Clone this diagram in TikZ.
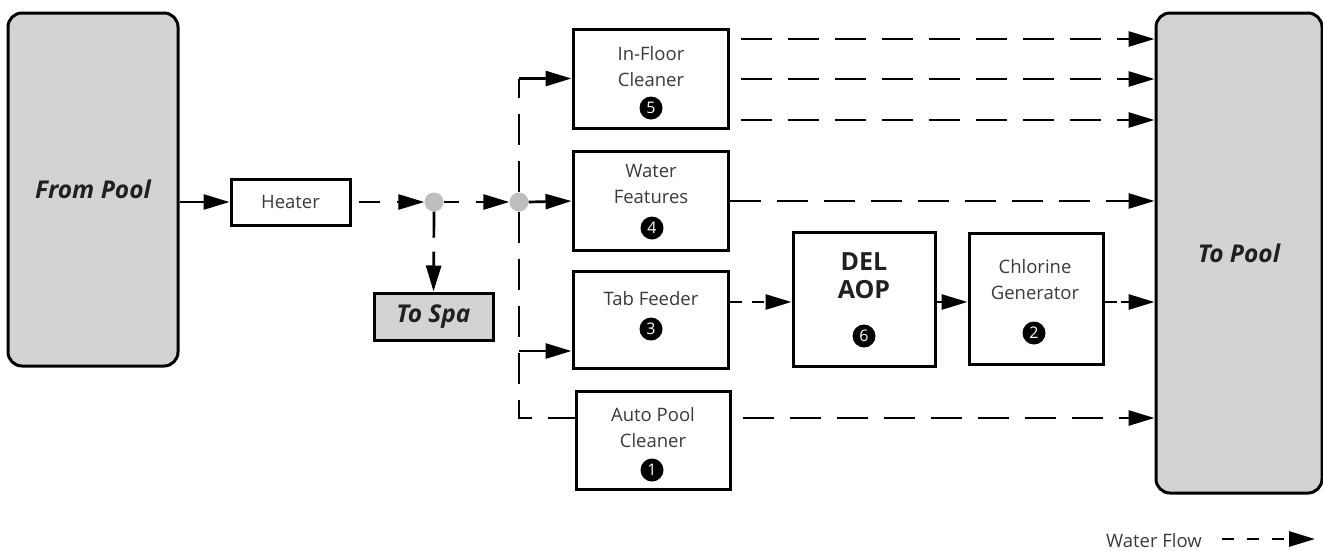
\documentclass[tikz,border=0pt]{standalone}
\usepackage{fontspec}
\setmainfont{Open Sans}
\usetikzlibrary{arrows.meta,calc}
\definecolor{poolgray}{HTML}{D1D3D4}
\definecolor{dotgray}{HTML}{BCBEC0}
\definecolor{txtgray}{HTML}{3A3A3A}
\definecolor{boldtxt}{HTML}{231F20}
\begin{document}
\begin{tikzpicture}[x=1pt,y=-1pt,
  pool/.style={draw=black, line width=3pt, fill=poolgray, rounded corners=14pt, inner sep=0pt},
  boxnode/.style={draw=black, line width=3pt, fill=white, inner sep=0pt},
  flow/.style={line width=2.7pt, dash pattern=on 31pt off 16pt},
  pipe/.style={line width=2.7pt},
  tip/.style={-{Triangle[length=26pt,width=15pt]}},
  badge/.style={circle, fill=black, text=white, inner sep=0pt, minimum size=23pt, font=\fontsize{16}{16}\selectfont},
  lbl/.style={text=txtgray, align=center, inner sep=0pt, font=\fontsize{18.5}{26}\selectfont},
  biglbl/.style={text=boldtxt, align=center, inner sep=0pt, font=\fontsize{24.5}{28}\selectfont\bfseries\itshape},
  dellbl/.style={text=boldtxt, align=center, inner sep=0pt, font=\fontsize{25}{28}\selectfont\bfseries},
  junction/.style={circle, fill=dotgray, minimum size=19pt, inner sep=0pt}
]
\useasboundingbox (0,0) rectangle (1323,550);

% big pool boxes
\node[pool, minimum width=170pt, minimum height=353pt] (frompool) at (93,189.5) {};
\node[biglbl] (frompool-t) at (frompool.center) {From Pool};
\node[pool, minimum width=166pt, minimum height=480pt] (topool) at (1239,253) {};
\node[biglbl] (topool-t) at (topool.center) {To Pool};

% heater
\node[boxnode, minimum width=119pt, minimum height=46pt] (heater) at (290.5,202) {};
\node[lbl] (heater-t) at (heater.center) {Heater};

% junctions
\node[junction] (dot1) at (434,202) {};
\node[junction] (dot2) at (519,202) {};

% to spa
\node[boxnode, fill=poolgray, minimum width=119pt, minimum height=47pt] (tospa) at (433.5,316.5) {};
\node[biglbl] (tospa-t) at (tospa.center) {To Spa};

% equipment boxes
\node[boxnode, minimum width=155pt, minimum height=99pt] (infloor) at (650.5,78.5) {};
\node[lbl] (infloor-t) at (651,67) {In-Floor\\Cleaner};
\node[badge] (b5) at (651,108) {5};

\node[boxnode, minimum width=155pt, minimum height=99pt] (waterfeat) at (650.5,201) {};
\node[lbl] (waterfeat-t) at (651,184) {Water\\Features};
\node[badge] (b4) at (652,228) {4};

\node[boxnode, minimum width=155pt, minimum height=97pt] (tabfeeder) at (650.5,319.5) {};
\node[lbl] (tabfeeder-t) at (651,299) {Tab Feeder};
\node[badge] (b3) at (651,329) {3};

\node[boxnode, minimum width=154pt, minimum height=98pt] (autopool) at (653,440) {};
\node[lbl] (autopool-t) at (653,427.5) {Auto Pool\\Cleaner};
\node[badge] (b1) at (652,470) {1};

\node[boxnode, minimum width=142pt, minimum height=134pt] (delaop) at (864,299) {};
\node[dellbl] (delaop-t) at (864,276) {DEL\\AOP};
\node[badge] (b6) at (864,336) {6};

\node[boxnode, minimum width=134pt, minimum height=131pt] (chlorine) at (1036,298.5) {};
\node[lbl] (chlorine-t) at (1035,280) {Chlorine\\Generator};
\node[badge] (b2) at (1034,333) {2};

% connection points
\coordinate (c1) at (dot2 |- infloor.west);
\coordinate (c2) at (519,351);
\coordinate (c3) at (519,418);

% connectors
\draw[pipe,tip] (frompool.east |- heater.west) -- (heater.west);
\draw[flow,tip,dash pattern=on 21pt off 17pt,dash phase=-7pt] (heater.east) -- (dot1.west);
\draw[flow,tip,dash pattern=on 15pt off 17pt] (dot1.east) -- (dot2.west);
\draw[flow,tip,dash pattern=on 26pt off 14pt] (dot1.south) -- (tospa.north);
\draw[pipe,tip] (dot2.east) -- (waterfeat.west);
\draw[flow] (dot2.north) -- (c1);
\draw[pipe,tip] (c1) -- (infloor.west);
\draw[flow] (dot2.south) -- (c3) -- (autopool.west |- c3);
\draw[pipe,tip] (c2) -- (tabfeeder.west |- c2);

\draw[flow,tip,dash phase=-11pt] (infloor.east |- 0,39) -- (topool.west |- 0,39);
\draw[flow,tip,dash phase=-11pt] (infloor.east |- 0,79) -- (topool.west |- 0,79);
\draw[flow,tip,dash phase=-11pt] (infloor.east |- 0,120) -- (topool.west |- 0,120);
\draw[flow,tip] (waterfeat.east) -- (topool.west |- waterfeat.east);
\draw[flow,tip,dash phase=-11pt] (autopool.east |- c3) -- (topool.west |- c3);
\draw[flow,tip,dash pattern=on 12pt off 10pt] (tabfeeder.east |- 0,302) -- (delaop.west |- 0,302);
\draw[pipe,tip] (delaop.east |- 0,302) -- (chlorine.west |- 0,302);
\draw[flow,tip,dash pattern=on 12pt off 4pt] (chlorine.east |- 0,302) -- (topool.west |- 0,302);

% legend
\node[lbl, anchor=base east] (legend) at (1202,547) {Water Flow};
\coordinate (legA) at (1222,539);
\coordinate (legB) at (1315,539);
\draw[line width=2.7pt, dash pattern=on 12pt off 13pt, tip] (legA) -- (legB);
\end{tikzpicture}
\end{document}
